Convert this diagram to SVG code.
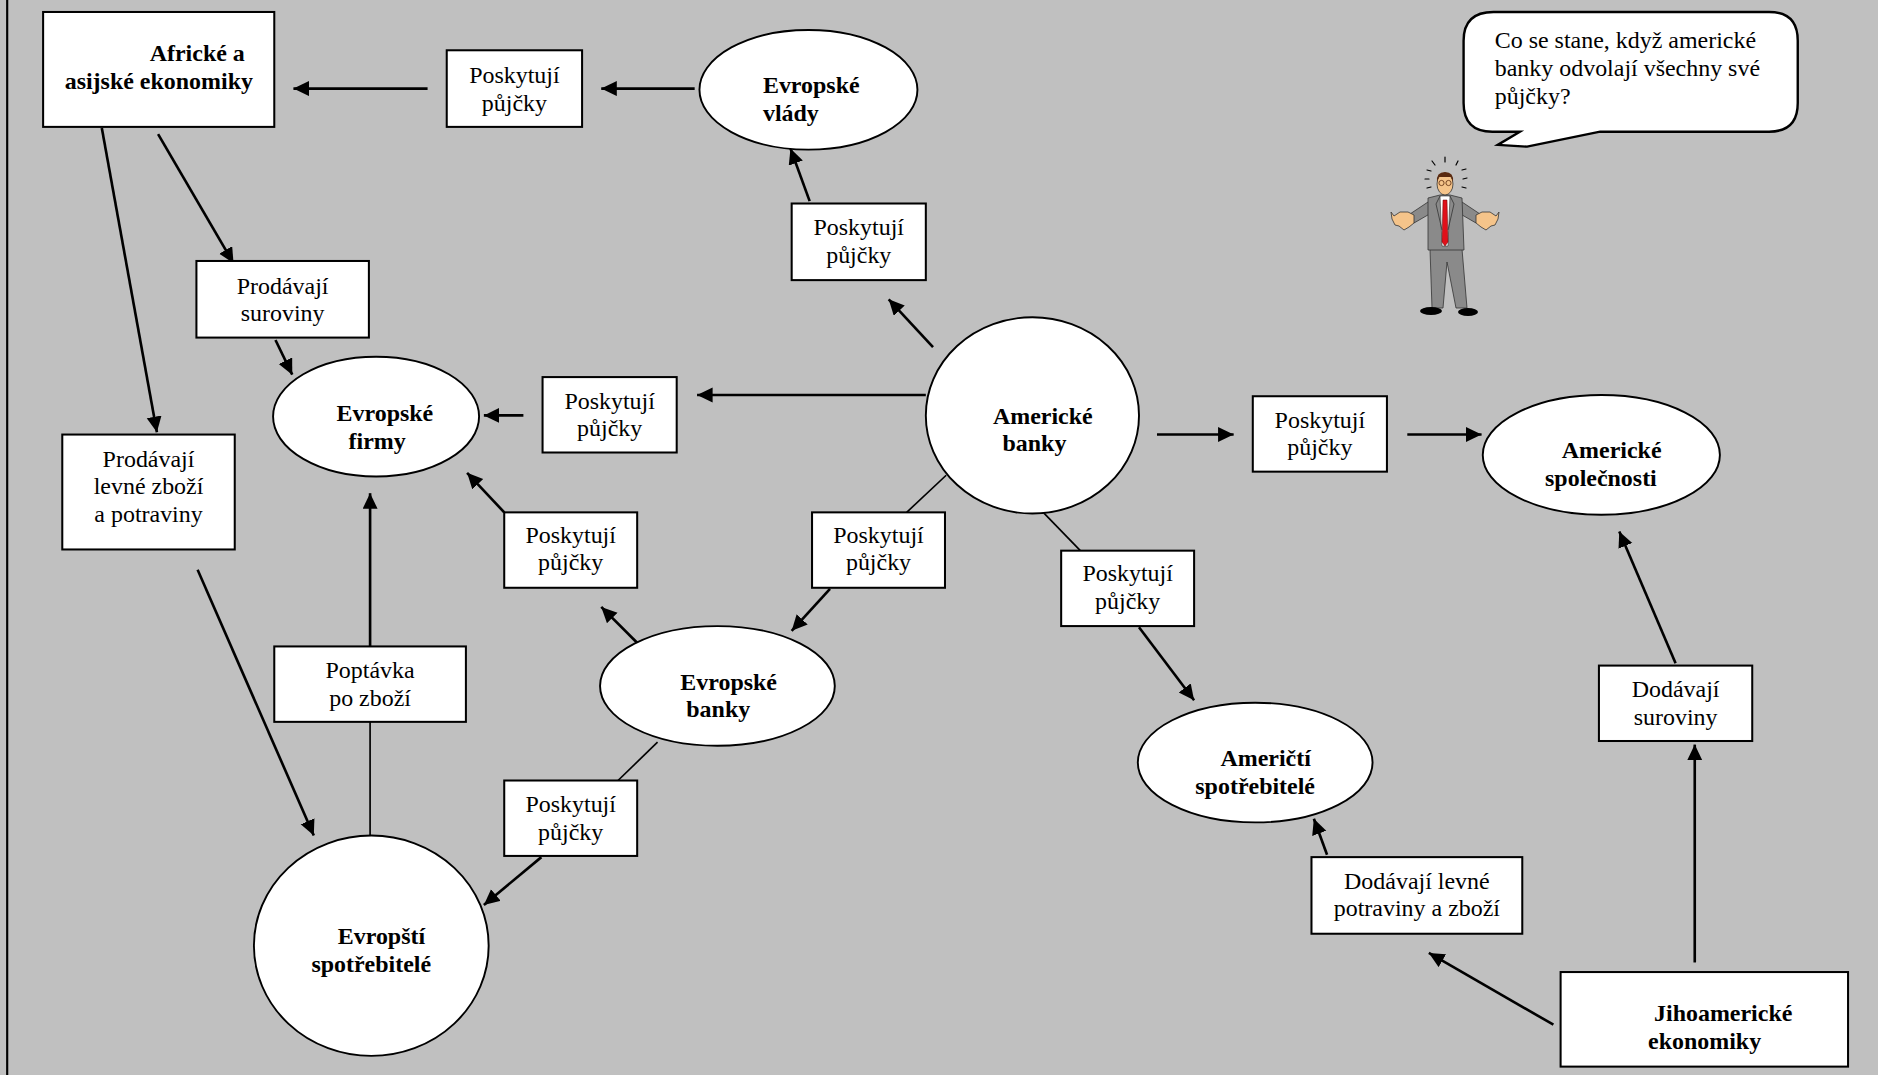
<svg xmlns="http://www.w3.org/2000/svg" width="1878" height="1075" viewBox="0 0 1878 1075">
<defs>
<marker id="ah" markerUnits="userSpaceOnUse" markerWidth="15" markerHeight="14" refX="13" refY="6.25" orient="auto">
<path d="M0,0 L13,6.25 L0,12.5 Z" fill="#000"/>
</marker>
<style>
.bx{fill:#fff;stroke:#000;stroke-width:1.7}
.el{fill:#fff;stroke:#000;stroke-width:1.6}
.ar{stroke:#000;stroke-width:2.2;fill:none;marker-end:url(#ah)}
.ln{stroke:#000;stroke-width:1.4;fill:none}
.t{font-family:"Liberation Serif","Times New Roman",serif;font-size:20px;fill:#000}
.c{text-anchor:middle}
.b{font-weight:bold}
</style>
</defs>
<rect x="0" y="0" width="1878" height="1075" fill="#c0c0c0"/>
<g transform="scale(1.1977,1.1971)">
<line x1="6" y1="0" x2="6" y2="898" stroke="#000" stroke-width="1.8"/>

<g id="connectors">
<line class="ar" x1="580" y1="74" x2="502" y2="74"/>
<line class="ar" x1="357" y1="74" x2="245" y2="74"/>
<line class="ar" x1="779" y1="290" x2="742" y2="250"/>
<line class="ar" x1="676" y1="168" x2="660" y2="124"/>
<line class="ar" x1="773" y1="330" x2="582" y2="330"/>
<line class="ar" x1="437" y1="347" x2="404" y2="347"/>
<line class="ar" x1="132" y1="112" x2="195" y2="220"/>
<line class="ar" x1="230" y1="284" x2="244" y2="313"/>
<line class="ar" x1="85" y1="107" x2="131" y2="361"/>
<line class="ar" x1="165" y1="476" x2="262" y2="698"/>
<line class="ar" x1="421" y1="428" x2="390" y2="395"/>
<line class="ar" x1="533" y1="538" x2="502" y2="507"/>
<line class="ln" x1="790" y1="397" x2="757" y2="428"/>
<line class="ar" x1="693" y1="492" x2="661" y2="527"/>
<line class="ln" x1="309" y1="698" x2="309" y2="603"/>
<line class="ar" x1="309" y1="540" x2="309" y2="412"/>
<line class="ln" x1="549" y1="620" x2="516" y2="652"/>
<line class="ar" x1="452" y1="716" x2="404" y2="756"/>
<line class="ar" x1="966" y1="363" x2="1030" y2="363"/>
<line class="ar" x1="1175" y1="363" x2="1237" y2="363"/>
<line class="ln" x1="870" y1="427" x2="902" y2="460"/>
<line class="ar" x1="951" y1="524" x2="997" y2="585"/>
<line class="ar" x1="1108" y1="714" x2="1097" y2="684"/>
<line class="ar" x1="1297" y1="856" x2="1193" y2="796"/>
<line class="ar" x1="1399" y1="554" x2="1352" y2="444"/>
<line class="ar" x1="1415" y1="804" x2="1415" y2="622"/>
</g>

<g id="n-africke">
<rect class="bx" x="36" y="10" width="193" height="96"/>
<text class="t b" x="125" y="51">Africké a</text>
<text class="t b" x="54" y="74">asijské ekonomiky</text>
</g>
<g id="n-pujcky-vlady-africke">
<rect class="bx" x="373" y="42" width="113" height="64"/>
<text class="t c" x="429.5" y="69.5">Poskytují</text>
<text class="t c" x="429.5" y="92.5">půjčky</text>
</g>
<g id="n-evropske-vlady">
<ellipse class="el" cx="675" cy="75" rx="91" ry="50"/>
<text class="t b" x="637" y="78">Evropské</text>
<text class="t b" x="637" y="101">vlády</text>
</g>
<g id="n-pujcky-banky-vlady">
<rect class="bx" x="661" y="170" width="112" height="64"/>
<text class="t c" x="717" y="196.5">Poskytují</text>
<text class="t c" x="717" y="219.5">půjčky</text>
</g>
<g id="n-prodavaji-suroviny">
<rect class="bx" x="164" y="218" width="144" height="64"/>
<text class="t c" x="236" y="245.5">Prodávají</text>
<text class="t c" x="236" y="268.5">suroviny</text>
</g>
<g id="n-evropske-firmy">
<ellipse class="el" cx="314" cy="348" rx="86" ry="50"/>
<text class="t b" x="281" y="352">Evropské</text>
<text class="t b" x="291" y="375">firmy</text>
</g>
<g id="n-pujcky-banky-firmy">
<rect class="bx" x="453" y="315" width="112" height="63"/>
<text class="t c" x="509" y="341.5">Poskytují</text>
<text class="t c" x="509" y="364.5">půjčky</text>
</g>
<g id="n-americke-banky">
<ellipse class="el" cx="862" cy="347" rx="89" ry="82"/>
<text class="t b" x="829" y="354">Americké</text>
<text class="t b" x="837" y="377">banky</text>
</g>
<g id="n-prodavaji-levne">
<rect class="bx" x="52" y="363" width="144" height="96"/>
<text class="t c" x="124" y="390">Prodávají</text>
<text class="t c" x="124" y="413">levné zboží</text>
<text class="t c" x="124" y="436">a potraviny</text>
</g>
<g id="n-pujcky-ebanky-firmy">
<rect class="bx" x="421" y="428" width="111" height="63"/>
<text class="t c" x="476.5" y="453.5">Poskytují</text>
<text class="t c" x="476.5" y="476.5">půjčky</text>
</g>
<g id="n-pujcky-abanky-ebanky">
<rect class="bx" x="678" y="428" width="111" height="63"/>
<text class="t c" x="733.5" y="453.5">Poskytují</text>
<text class="t c" x="733.5" y="476.5">půjčky</text>
</g>
<g id="n-evropske-banky">
<ellipse class="el" cx="599" cy="573" rx="98" ry="50"/>
<text class="t b" x="568" y="576">Evropské</text>
<text class="t b" x="573" y="599">banky</text>
</g>
<g id="n-poptavka">
<rect class="bx" x="229" y="540" width="160" height="63"/>
<text class="t c" x="309" y="566.5">Poptávka</text>
<text class="t c" x="309" y="589.5">po zboží</text>
</g>
<g id="n-pujcky-ebanky-spotrebitele">
<rect class="bx" x="421" y="652" width="111" height="63"/>
<text class="t c" x="476.5" y="678.5">Poskytují</text>
<text class="t c" x="476.5" y="701.5">půjčky</text>
</g>
<g id="n-evropsti-spotrebitele">
<ellipse class="el" cx="310" cy="790" rx="98" ry="92"/>
<text class="t b" x="282" y="789">Evropští</text>
<text class="t b" x="260" y="812">spotřebitelé</text>
</g>
<g id="n-pujcky-abanky-spolecnosti">
<rect class="bx" x="1046" y="331" width="112" height="63"/>
<text class="t c" x="1102" y="357.5">Poskytují</text>
<text class="t c" x="1102" y="380.5">půjčky</text>
</g>
<g id="n-americke-spolecnosti">
<ellipse class="el" cx="1337" cy="380" rx="99" ry="50"/>
<text class="t b" x="1304" y="383">Americké</text>
<text class="t b" x="1290" y="406">společnosti</text>
</g>
<g id="n-pujcky-abanky-spotrebitele">
<rect class="bx" x="886" y="460" width="111" height="63"/>
<text class="t c" x="941.5" y="485.5">Poskytují</text>
<text class="t c" x="941.5" y="508.5">půjčky</text>
</g>
<g id="n-americti-spotrebitele">
<ellipse class="el" cx="1048" cy="637" rx="98" ry="50"/>
<text class="t b" x="1019" y="640">Američtí</text>
<text class="t b" x="998" y="663">spotřebitelé</text>
</g>
<g id="n-dodavaji-levne">
<rect class="bx" x="1095" y="716" width="176" height="64"/>
<text class="t c" x="1183" y="742.5">Dodávají levné</text>
<text class="t c" x="1183" y="765.5">potraviny a zboží</text>
</g>
<g id="n-dodavaji-suroviny">
<rect class="bx" x="1335" y="556" width="128" height="63"/>
<text class="t c" x="1399" y="582.5">Dodávají</text>
<text class="t c" x="1399" y="605.5">suroviny</text>
</g>
<g id="n-jihoamericke">
<rect class="bx" x="1303" y="812" width="240" height="79"/>
<text class="t b" x="1381" y="853">Jihoamerické</text>
<text class="t b" x="1376" y="876">ekonomiky</text>
</g>
<g id="n-bubble">
<path d="M1247,10 H1477 Q1501,10 1501,34 V86 Q1501,110 1477,110 H1336 L1275,122.5 L1250.5,121 L1269,110 H1246 Q1222,110 1222,86 V34 Q1222,10 1247,10 Z" fill="#fff" stroke="#000" stroke-width="2"/>
<text class="t" x="1248" y="40.5">Co se stane, když americké</text>
<text class="t" x="1248" y="63.5">banky odvolají všechny své</text>
<text class="t" x="1248" y="86.5">půjčky?</text>
</g>
</g>

<g id="man">
<g stroke="#000" stroke-width="1.2" stroke-linecap="round">
<line x1="1432" y1="161" x2="1435" y2="165"/>
<line x1="1445" y1="157" x2="1445" y2="162"/>
<line x1="1458" y1="161" x2="1456" y2="165"/>
<line x1="1427" y1="170" x2="1431" y2="171"/>
<line x1="1462" y1="170" x2="1466" y2="169"/>
<line x1="1425" y1="179" x2="1429" y2="179"/>
<line x1="1463" y1="179" x2="1467" y2="178"/>
<line x1="1427" y1="188" x2="1431" y2="187"/>
<line x1="1462" y1="187" x2="1466" y2="188"/>
</g>
<path d="M1410,214 L1431,200 L1433,212 L1414,223 Z" fill="#8a8a8a" stroke="#333" stroke-width="0.8"/>
<path d="M1480,214 L1459,200 L1457,212 L1476,223 Z" fill="#8a8a8a" stroke="#333" stroke-width="0.8"/>
<path d="M1391,212 L1394,216 L1400,212 L1408,212 L1414,215 L1414,223 L1409,227 L1404,230 L1399,226 L1395,225 L1392,219 Z" fill="#f5c48a" stroke="#333" stroke-width="0.8"/>
<path d="M1499,212 L1496,216 L1490,212 L1482,212 L1476,215 L1476,223 L1481,227 L1486,230 L1491,226 L1495,225 L1498,219 Z" fill="#f5c48a" stroke="#333" stroke-width="0.8"/>
<path d="M1430,249 L1462,249 L1467,308 L1456,308 L1447,262 L1443,308 L1432,308 Z" fill="#8a8a8a" stroke="#333" stroke-width="0.8"/>
<path d="M1428,198 L1440,195 L1450,195 L1462,198 L1464,250 L1428,250 Z" fill="#8a8a8a" stroke="#333" stroke-width="0.8"/>
<path d="M1440,196 L1450,196 L1448,246 L1442,246 Z" fill="#fff" stroke="#333" stroke-width="0.6"/>
<path d="M1443,200 L1447,200 L1448,242 L1445,246 L1442,242 Z" fill="#e0101a" stroke="#600" stroke-width="0.5"/>
<path d="M1440,196 L1436,204 L1442,230 M1450,196 L1454,204 L1448,230" fill="none" stroke="#333" stroke-width="0.8"/>
<ellipse cx="1445" cy="184" rx="8" ry="11" fill="#f5c48a" stroke="#333" stroke-width="0.8"/>
<path d="M1437,182 Q1436,172 1445,172 Q1454,172 1453,182 L1451,177 L1439,177 Z" fill="#5a2a10"/>
<circle cx="1441.5" cy="183" r="2.6" fill="none" stroke="#6a3a1a" stroke-width="0.9"/>
<circle cx="1448.5" cy="183" r="2.6" fill="none" stroke="#6a3a1a" stroke-width="0.9"/>
<ellipse cx="1431" cy="311" rx="11" ry="4" fill="#000"/>
<ellipse cx="1468" cy="312" rx="10" ry="4" fill="#000"/>
</g>
</svg>
